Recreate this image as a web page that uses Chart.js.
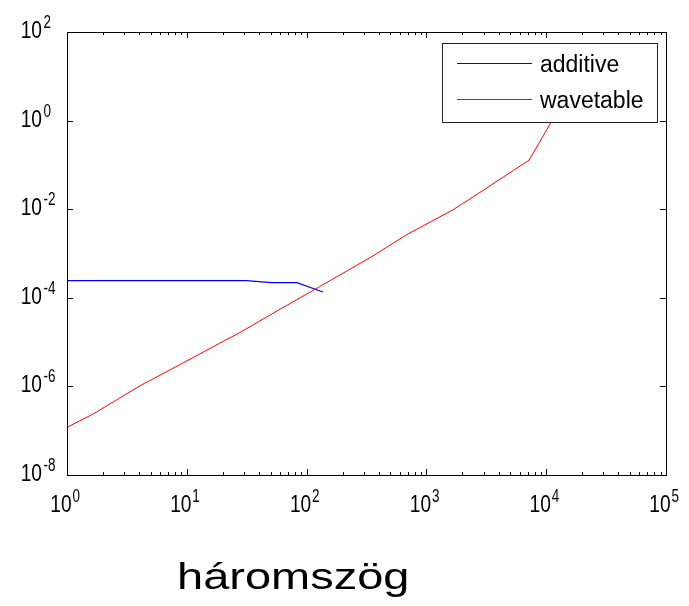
<!DOCTYPE html>
<html>
<head>
<meta charset="utf-8">
<script src="https://cdn.jsdelivr.net/npm/chart.js@4.4.1/dist/chart.umd.min.js"></script>
<style>
  body { margin: 0; background: #fff; }
  canvas { display: block; }
</style>
</head>
<body>
<canvas id="chart" width="689" height="606"></canvas>
<script>
// values (log-log)
const additiveX = [1, 31.4, 50.8, 83, 137];
const additiveY = [2.43e-4, 2.43e-4, 2.19e-4, 2.19e-4, 1.35e-4];

const wavetableX = [1, 1.65, 4.19, 7.2, 18.8, 28.6, 52.4, 128, 236, 369, 677, 1657, 2595, 7215, 10940, 15000];
const wavetableY = [1.19e-7, 2.38e-7, 1.08e-6, 2.34e-6, 9.4e-6, 1.72e-5, 4.47e-5, 1.78e-4, 4.6e-4, 9.25e-4, 2.62e-3, 9.6e-3, 2.09e-2, 0.129, 0.9, 3.9];

const seriesNames = ["additive", "wavetable"];
const seriesColors = ["#0000ff", "#ff0000"];
const xTickExps = [0, 1, 2, 3, 4, 5];
const yTickExps = [-8, -6, -4, -2, 0, 2];
const titleText = "háromszög";

const FONT = '"Liberation Sans", Arial, sans-serif';

const toPoints = (xs, ys) => xs.map((x, i) => ({ x: x, y: ys[i] }));

// draw text with a horizontal stretch factor, returns drawn width
function drawText(ctx, txt, x, y, size, sx, align) {
  ctx.save();
  ctx.font = size + "px " + FONT;
  ctx.textBaseline = "alphabetic";
  ctx.textAlign = "left";
  const w = ctx.measureText(txt).width * sx;
  const left = align === "right" ? x - w : x;
  ctx.translate(left, y);
  ctx.scale(sx, 1);
  ctx.fillText(txt, 0, 0);
  ctx.restore();
  return w;
}

const matlabAxes = {
  id: "matlabAxes",
  afterDatasetsDraw(chart) {
    const ctx = chart.ctx;
    const a = chart.chartArea;
    const xs = chart.scales.x;
    const ys = chart.scales.y;

    ctx.save();
    ctx.fillStyle = "#000";
    ctx.strokeStyle = "#000";
    ctx.lineWidth = 1;

    // frame
    ctx.strokeRect(a.left + 0.5, a.top + 0.5, a.right - a.left, a.bottom - a.top);

    // x ticks (major + minor, inward, top and bottom)
    ctx.beginPath();
    xTickExps.forEach((e) => {
      const px = Math.round(xs.getPixelForValue(Math.pow(10, e))) + 0.5;
      ctx.moveTo(px, a.bottom); ctx.lineTo(px, a.bottom - 6);
      ctx.moveTo(px, a.top); ctx.lineTo(px, a.top + 6);
      if (e < xTickExps[xTickExps.length - 1]) {
        for (let m = 2; m <= 9; m++) {
          const mx = Math.round(xs.getPixelForValue(m * Math.pow(10, e))) + 0.5;
          ctx.moveTo(mx, a.bottom); ctx.lineTo(mx, a.bottom - 3);
          ctx.moveTo(mx, a.top); ctx.lineTo(mx, a.top + 3);
        }
      }
    });
    // y ticks (left and right)
    yTickExps.forEach((e) => {
      const py = Math.round(ys.getPixelForValue(Math.pow(10, e))) + 0.5;
      ctx.moveTo(a.left, py); ctx.lineTo(a.left + 6, py);
      ctx.moveTo(a.right, py); ctx.lineTo(a.right - 6, py);
    });
    ctx.stroke();

    // x tick labels
    xTickExps.forEach((e) => {
      const px = xs.getPixelForValue(Math.pow(10, e));
      drawText(ctx, "10", px + 4.7, 512, 24, 0.8, "right");
      drawText(ctx, String(e), px + 5.5, 502, 18, 0.75, "left");
    });
    // y tick labels
    yTickExps.forEach((e) => {
      const py = ys.getPixelForValue(Math.pow(10, e));
      drawText(ctx, "10", 42, py + 6, 24, 0.8, "right");
      drawText(ctx, String(e), 43.5, py - 4, 18, 0.75, "left");
    });

    // legend box
    ctx.fillStyle = "#fff";
    ctx.fillRect(442, 43, 215, 79);
    ctx.strokeStyle = "#222";
    ctx.strokeRect(442.5, 43.5, 215, 79);
    const rows = [63.5, 99.5];
    const baselines = [72, 108];
    chart.data.datasets.forEach((ds, i) => {
      ctx.strokeStyle = ds.borderColor;
      ctx.beginPath();
      ctx.moveTo(457, rows[i]);
      ctx.lineTo(532, rows[i]);
      ctx.stroke();
      ctx.fillStyle = "#000";
      drawText(ctx, ds.label, 540, baselines[i], 23, 1, "left");
    });

    // bottom title
    ctx.fillStyle = "#000";
    drawText(ctx, titleText, 177, 589, 37, 1.27, "left");
    ctx.restore();
  }
};

const ctx = document.getElementById("chart").getContext("2d");

new Chart(ctx, {
  type: "line",
  data: {
    datasets: [
      {
        label: seriesNames[0],
        data: toPoints(additiveX, additiveY),
        borderColor: seriesColors[0],
        borderWidth: 1.2,
        order: 2,
      },
      {
        label: seriesNames[1],
        data: toPoints(wavetableX, wavetableY),
        borderColor: seriesColors[1],
        borderWidth: 1,
        order: 1,
      },
    ],
  },
  options: {
    responsive: false,
    animation: false,
    devicePixelRatio: 1,
    layout: { padding: { left: 67, top: 32, right: 23, bottom: 131 } },
    elements: { point: { radius: 0 }, line: { tension: 0 } },
    scales: {
      x: { type: "logarithmic", min: 1, max: 1e5, display: false },
      y: { type: "logarithmic", min: 1e-8, max: 100, display: false },
    },
    plugins: {
      legend: { display: false },
      tooltip: { enabled: false },
    },
  },
  plugins: [matlabAxes],
});
</script>
</body>
</html>
